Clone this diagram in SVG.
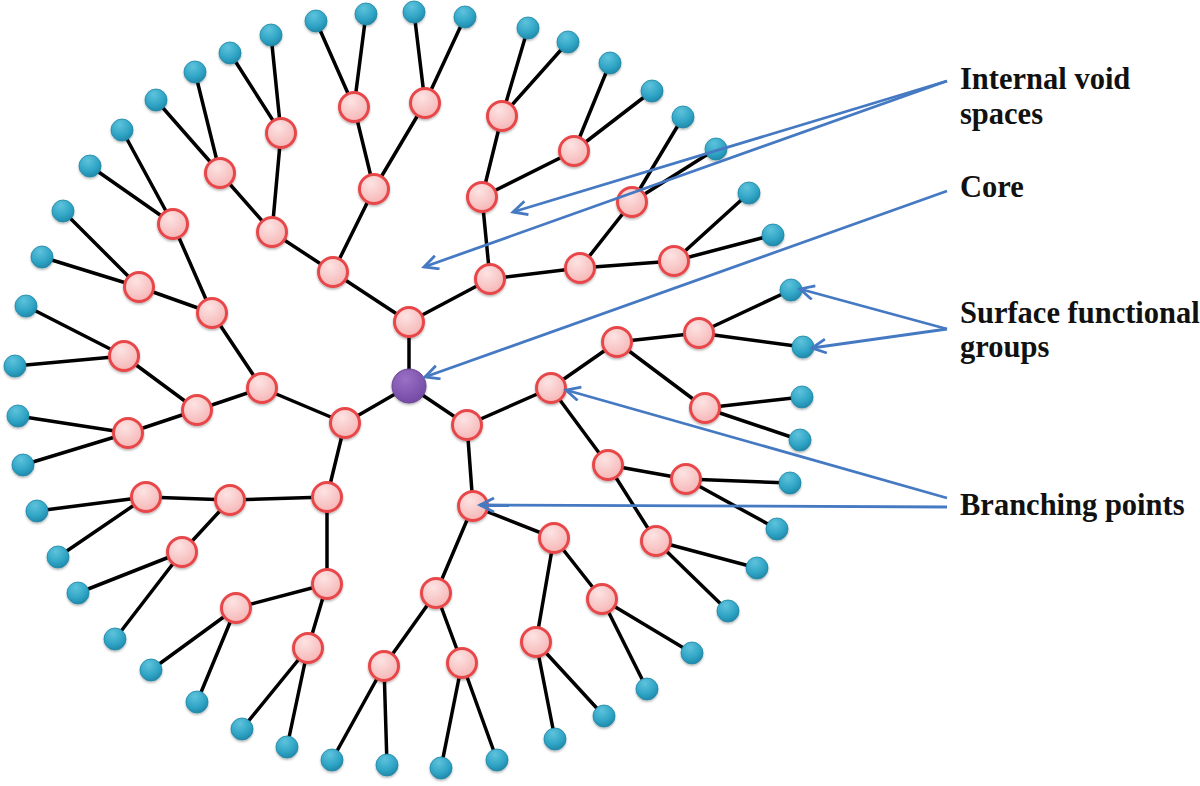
<svg xmlns="http://www.w3.org/2000/svg" xmlns:xlink="http://www.w3.org/1999/xlink" width="1200" height="786" viewBox="0 0 1200 786">
<style>
.e{stroke:#000;stroke-width:3.5;stroke-linecap:round}
.bp{fill:url(#gp);stroke:#e8474a;stroke-width:3}
.lf{fill:url(#gl);stroke:#1f86a6;stroke-width:0.8}
.core{fill:url(#gc);stroke:#6a4593;stroke-width:1}
.ar{stroke:#4579c2;stroke-width:2.8;fill:none;marker-end:url(#ah)}
.t{font-family:"Liberation Serif","Times New Roman",serif;font-weight:bold;font-size:30.5px;fill:#111}
.n{filter:url(#sh)}
</style>
<defs>
<radialGradient id="gp" cx="0.4" cy="0.3" r="0.8"><stop offset="0" stop-color="#fde3e3"/><stop offset="1" stop-color="#f5b0b0"/></radialGradient>
<radialGradient id="gl" cx="0.4" cy="0.25" r="0.85"><stop offset="0" stop-color="#5ec3dc"/><stop offset="0.6" stop-color="#2ea3c4"/><stop offset="1" stop-color="#1c7fa0"/></radialGradient>
<radialGradient id="gc" cx="0.4" cy="0.3" r="0.8"><stop offset="0" stop-color="#9a70c6"/><stop offset="1" stop-color="#6f45a0"/></radialGradient>
<filter id="sh" x="-30%" y="-30%" width="160%" height="170%"><feDropShadow dx="0" dy="1.5" stdDeviation="1.2" flood-color="#000" flood-opacity="0.3"/></filter>
<marker id="ah" markerUnits="userSpaceOnUse" markerWidth="20" markerHeight="20" refX="15" refY="8" orient="auto"><path d="M1,1 L15,8 L1,15" fill="none" stroke="#4579c2" stroke-width="2.8" stroke-linejoin="miter"/></marker>
</defs>
<g id="connectors">
<line class="e" x1="409" y1="386" x2="409" y2="322"/>
<line class="e" x1="409" y1="386" x2="345" y2="423"/>
<line class="e" x1="409" y1="386" x2="467" y2="425"/>
<line class="e" x1="409" y1="322" x2="333" y2="272"/>
<line class="e" x1="409" y1="322" x2="490" y2="279"/>
<line class="e" x1="333" y1="272" x2="272" y2="232"/>
<line class="e" x1="333" y1="272" x2="374" y2="189"/>
<line class="e" x1="272" y1="232" x2="220" y2="173"/>
<line class="e" x1="272" y1="232" x2="281" y2="133"/>
<line class="e" x1="374" y1="189" x2="354" y2="107"/>
<line class="e" x1="374" y1="189" x2="425" y2="103"/>
<line class="e" x1="490" y1="279" x2="482" y2="197"/>
<line class="e" x1="490" y1="279" x2="580" y2="268"/>
<line class="e" x1="482" y1="197" x2="502" y2="116"/>
<line class="e" x1="482" y1="197" x2="574" y2="151"/>
<line class="e" x1="580" y1="268" x2="632" y2="202"/>
<line class="e" x1="580" y1="268" x2="674" y2="261"/>
<line class="e" x1="345" y1="423" x2="262" y2="388"/>
<line class="e" x1="345" y1="423" x2="327" y2="497"/>
<line class="e" x1="262" y1="388" x2="212" y2="313"/>
<line class="e" x1="262" y1="388" x2="197" y2="410"/>
<line class="e" x1="212" y1="313" x2="139" y2="287"/>
<line class="e" x1="212" y1="313" x2="173" y2="224"/>
<line class="e" x1="197" y1="410" x2="124" y2="356"/>
<line class="e" x1="197" y1="410" x2="128" y2="433"/>
<line class="e" x1="327" y1="497" x2="230" y2="500"/>
<line class="e" x1="327" y1="497" x2="327" y2="584"/>
<line class="e" x1="230" y1="500" x2="146" y2="497"/>
<line class="e" x1="230" y1="500" x2="182" y2="552"/>
<line class="e" x1="327" y1="584" x2="236" y2="608"/>
<line class="e" x1="327" y1="584" x2="308" y2="648"/>
<line class="e" x1="467" y1="425" x2="551" y2="388"/>
<line class="e" x1="467" y1="425" x2="473" y2="506"/>
<line class="e" x1="551" y1="388" x2="617" y2="342"/>
<line class="e" x1="551" y1="388" x2="608" y2="465"/>
<line class="e" x1="617" y1="342" x2="699" y2="333"/>
<line class="e" x1="617" y1="342" x2="705" y2="408"/>
<line class="e" x1="608" y1="465" x2="686" y2="479"/>
<line class="e" x1="608" y1="465" x2="656" y2="541"/>
<line class="e" x1="473" y1="506" x2="554" y2="538"/>
<line class="e" x1="473" y1="506" x2="436" y2="593"/>
<line class="e" x1="554" y1="538" x2="602" y2="599"/>
<line class="e" x1="554" y1="538" x2="536" y2="642"/>
<line class="e" x1="436" y1="593" x2="462" y2="663"/>
<line class="e" x1="436" y1="593" x2="384" y2="666"/>
<line class="e" x1="220" y1="173" x2="156" y2="100"/>
<line class="e" x1="220" y1="173" x2="195" y2="72"/>
<line class="e" x1="281" y1="133" x2="230" y2="53"/>
<line class="e" x1="281" y1="133" x2="271" y2="35"/>
<line class="e" x1="354" y1="107" x2="316" y2="21"/>
<line class="e" x1="354" y1="107" x2="366" y2="14"/>
<line class="e" x1="425" y1="103" x2="414" y2="12"/>
<line class="e" x1="425" y1="103" x2="465" y2="17"/>
<line class="e" x1="502" y1="116" x2="528" y2="28"/>
<line class="e" x1="502" y1="116" x2="568" y2="42"/>
<line class="e" x1="574" y1="151" x2="610" y2="63"/>
<line class="e" x1="574" y1="151" x2="652" y2="91"/>
<line class="e" x1="632" y1="202" x2="683" y2="117"/>
<line class="e" x1="632" y1="202" x2="716" y2="149"/>
<line class="e" x1="674" y1="261" x2="749" y2="193"/>
<line class="e" x1="674" y1="261" x2="773" y2="235"/>
<line class="e" x1="173" y1="224" x2="122" y2="130"/>
<line class="e" x1="173" y1="224" x2="90" y2="166"/>
<line class="e" x1="139" y1="287" x2="63" y2="211"/>
<line class="e" x1="139" y1="287" x2="42" y2="257"/>
<line class="e" x1="124" y1="356" x2="26" y2="306"/>
<line class="e" x1="124" y1="356" x2="15" y2="366"/>
<line class="e" x1="128" y1="433" x2="18" y2="416"/>
<line class="e" x1="128" y1="433" x2="23" y2="465"/>
<line class="e" x1="146" y1="497" x2="37" y2="511"/>
<line class="e" x1="146" y1="497" x2="58" y2="557"/>
<line class="e" x1="182" y1="552" x2="78" y2="593"/>
<line class="e" x1="182" y1="552" x2="115" y2="639"/>
<line class="e" x1="236" y1="608" x2="151" y2="670"/>
<line class="e" x1="236" y1="608" x2="197" y2="702"/>
<line class="e" x1="308" y1="648" x2="242" y2="729"/>
<line class="e" x1="308" y1="648" x2="287" y2="747"/>
<line class="e" x1="384" y1="666" x2="332" y2="760"/>
<line class="e" x1="384" y1="666" x2="387" y2="765"/>
<line class="e" x1="462" y1="663" x2="441" y2="768"/>
<line class="e" x1="462" y1="663" x2="497" y2="760"/>
<line class="e" x1="536" y1="642" x2="555" y2="739"/>
<line class="e" x1="536" y1="642" x2="604" y2="716"/>
<line class="e" x1="602" y1="599" x2="647" y2="689"/>
<line class="e" x1="602" y1="599" x2="692" y2="653"/>
<line class="e" x1="656" y1="541" x2="728" y2="611"/>
<line class="e" x1="656" y1="541" x2="757" y2="568"/>
<line class="e" x1="686" y1="479" x2="777" y2="529"/>
<line class="e" x1="686" y1="479" x2="790" y2="483"/>
<line class="e" x1="705" y1="408" x2="802" y2="397"/>
<line class="e" x1="705" y1="408" x2="800" y2="440"/>
<line class="e" x1="699" y1="333" x2="791" y2="290"/>
<line class="e" x1="699" y1="333" x2="803" y2="347"/>
</g>
<g id="core" class="n"><circle class="core" cx="409" cy="386" r="17"/></g>
<g id="branching-points">
<g id="b1" class="n"><circle class="bp" cx="409" cy="322" r="14.5"/></g>
<g id="b2" class="n"><circle class="bp" cx="345" cy="423" r="14.5"/></g>
<g id="b3" class="n"><circle class="bp" cx="467" cy="425" r="14.5"/></g>
<g id="b4" class="n"><circle class="bp" cx="333" cy="272" r="14.5"/></g>
<g id="b5" class="n"><circle class="bp" cx="490" cy="279" r="14.5"/></g>
<g id="b6" class="n"><circle class="bp" cx="272" cy="232" r="14.5"/></g>
<g id="b7" class="n"><circle class="bp" cx="374" cy="189" r="14.5"/></g>
<g id="b8" class="n"><circle class="bp" cx="220" cy="173" r="14.5"/></g>
<g id="b9" class="n"><circle class="bp" cx="281" cy="133" r="14.5"/></g>
<g id="b10" class="n"><circle class="bp" cx="354" cy="107" r="14.5"/></g>
<g id="b11" class="n"><circle class="bp" cx="425" cy="103" r="14.5"/></g>
<g id="b12" class="n"><circle class="bp" cx="482" cy="197" r="14.5"/></g>
<g id="b13" class="n"><circle class="bp" cx="580" cy="268" r="14.5"/></g>
<g id="b14" class="n"><circle class="bp" cx="502" cy="116" r="14.5"/></g>
<g id="b15" class="n"><circle class="bp" cx="574" cy="151" r="14.5"/></g>
<g id="b16" class="n"><circle class="bp" cx="632" cy="202" r="14.5"/></g>
<g id="b17" class="n"><circle class="bp" cx="674" cy="261" r="14.5"/></g>
<g id="b18" class="n"><circle class="bp" cx="262" cy="388" r="14.5"/></g>
<g id="b19" class="n"><circle class="bp" cx="327" cy="497" r="14.5"/></g>
<g id="b20" class="n"><circle class="bp" cx="212" cy="313" r="14.5"/></g>
<g id="b21" class="n"><circle class="bp" cx="197" cy="410" r="14.5"/></g>
<g id="b22" class="n"><circle class="bp" cx="139" cy="287" r="14.5"/></g>
<g id="b23" class="n"><circle class="bp" cx="173" cy="224" r="14.5"/></g>
<g id="b24" class="n"><circle class="bp" cx="124" cy="356" r="14.5"/></g>
<g id="b25" class="n"><circle class="bp" cx="128" cy="433" r="14.5"/></g>
<g id="b26" class="n"><circle class="bp" cx="230" cy="500" r="14.5"/></g>
<g id="b27" class="n"><circle class="bp" cx="327" cy="584" r="14.5"/></g>
<g id="b28" class="n"><circle class="bp" cx="146" cy="497" r="14.5"/></g>
<g id="b29" class="n"><circle class="bp" cx="182" cy="552" r="14.5"/></g>
<g id="b30" class="n"><circle class="bp" cx="236" cy="608" r="14.5"/></g>
<g id="b31" class="n"><circle class="bp" cx="308" cy="648" r="14.5"/></g>
<g id="b32" class="n"><circle class="bp" cx="551" cy="388" r="14.5"/></g>
<g id="b33" class="n"><circle class="bp" cx="473" cy="506" r="14.5"/></g>
<g id="b34" class="n"><circle class="bp" cx="617" cy="342" r="14.5"/></g>
<g id="b35" class="n"><circle class="bp" cx="608" cy="465" r="14.5"/></g>
<g id="b36" class="n"><circle class="bp" cx="699" cy="333" r="14.5"/></g>
<g id="b37" class="n"><circle class="bp" cx="705" cy="408" r="14.5"/></g>
<g id="b38" class="n"><circle class="bp" cx="686" cy="479" r="14.5"/></g>
<g id="b39" class="n"><circle class="bp" cx="656" cy="541" r="14.5"/></g>
<g id="b40" class="n"><circle class="bp" cx="554" cy="538" r="14.5"/></g>
<g id="b41" class="n"><circle class="bp" cx="436" cy="593" r="14.5"/></g>
<g id="b42" class="n"><circle class="bp" cx="602" cy="599" r="14.5"/></g>
<g id="b43" class="n"><circle class="bp" cx="536" cy="642" r="14.5"/></g>
<g id="b44" class="n"><circle class="bp" cx="462" cy="663" r="14.5"/></g>
<g id="b45" class="n"><circle class="bp" cx="384" cy="666" r="14.5"/></g>
</g>
<g id="surface-groups">
<g id="s1" class="n"><circle class="lf" cx="156" cy="100" r="11"/></g>
<g id="s2" class="n"><circle class="lf" cx="195" cy="72" r="11"/></g>
<g id="s3" class="n"><circle class="lf" cx="230" cy="53" r="11"/></g>
<g id="s4" class="n"><circle class="lf" cx="271" cy="35" r="11"/></g>
<g id="s5" class="n"><circle class="lf" cx="316" cy="21" r="11"/></g>
<g id="s6" class="n"><circle class="lf" cx="366" cy="14" r="11"/></g>
<g id="s7" class="n"><circle class="lf" cx="414" cy="12" r="11"/></g>
<g id="s8" class="n"><circle class="lf" cx="465" cy="17" r="11"/></g>
<g id="s9" class="n"><circle class="lf" cx="528" cy="28" r="11"/></g>
<g id="s10" class="n"><circle class="lf" cx="568" cy="42" r="11"/></g>
<g id="s11" class="n"><circle class="lf" cx="610" cy="63" r="11"/></g>
<g id="s12" class="n"><circle class="lf" cx="652" cy="91" r="11"/></g>
<g id="s13" class="n"><circle class="lf" cx="683" cy="117" r="11"/></g>
<g id="s14" class="n"><circle class="lf" cx="716" cy="149" r="11"/></g>
<g id="s15" class="n"><circle class="lf" cx="749" cy="193" r="11"/></g>
<g id="s16" class="n"><circle class="lf" cx="773" cy="235" r="11"/></g>
<g id="s17" class="n"><circle class="lf" cx="122" cy="130" r="11"/></g>
<g id="s18" class="n"><circle class="lf" cx="90" cy="166" r="11"/></g>
<g id="s19" class="n"><circle class="lf" cx="63" cy="211" r="11"/></g>
<g id="s20" class="n"><circle class="lf" cx="42" cy="257" r="11"/></g>
<g id="s21" class="n"><circle class="lf" cx="26" cy="306" r="11"/></g>
<g id="s22" class="n"><circle class="lf" cx="15" cy="366" r="11"/></g>
<g id="s23" class="n"><circle class="lf" cx="18" cy="416" r="11"/></g>
<g id="s24" class="n"><circle class="lf" cx="23" cy="465" r="11"/></g>
<g id="s25" class="n"><circle class="lf" cx="37" cy="511" r="11"/></g>
<g id="s26" class="n"><circle class="lf" cx="58" cy="557" r="11"/></g>
<g id="s27" class="n"><circle class="lf" cx="78" cy="593" r="11"/></g>
<g id="s28" class="n"><circle class="lf" cx="115" cy="639" r="11"/></g>
<g id="s29" class="n"><circle class="lf" cx="151" cy="670" r="11"/></g>
<g id="s30" class="n"><circle class="lf" cx="197" cy="702" r="11"/></g>
<g id="s31" class="n"><circle class="lf" cx="242" cy="729" r="11"/></g>
<g id="s32" class="n"><circle class="lf" cx="287" cy="747" r="11"/></g>
<g id="s33" class="n"><circle class="lf" cx="332" cy="760" r="11"/></g>
<g id="s34" class="n"><circle class="lf" cx="387" cy="765" r="11"/></g>
<g id="s35" class="n"><circle class="lf" cx="441" cy="768" r="11"/></g>
<g id="s36" class="n"><circle class="lf" cx="497" cy="760" r="11"/></g>
<g id="s37" class="n"><circle class="lf" cx="555" cy="739" r="11"/></g>
<g id="s38" class="n"><circle class="lf" cx="604" cy="716" r="11"/></g>
<g id="s39" class="n"><circle class="lf" cx="647" cy="689" r="11"/></g>
<g id="s40" class="n"><circle class="lf" cx="692" cy="653" r="11"/></g>
<g id="s41" class="n"><circle class="lf" cx="728" cy="611" r="11"/></g>
<g id="s42" class="n"><circle class="lf" cx="757" cy="568" r="11"/></g>
<g id="s43" class="n"><circle class="lf" cx="777" cy="529" r="11"/></g>
<g id="s44" class="n"><circle class="lf" cx="790" cy="483" r="11"/></g>
<g id="s45" class="n"><circle class="lf" cx="800" cy="440" r="11"/></g>
<g id="s46" class="n"><circle class="lf" cx="802" cy="397" r="11"/></g>
<g id="s47" class="n"><circle class="lf" cx="803" cy="347" r="11"/></g>
<g id="s48" class="n"><circle class="lf" cx="791" cy="290" r="11"/></g>
</g>
<g id="label-arrows">
<path class="ar" d="M947,81 L513,212"/>
<path class="ar" d="M947,81 L424,267"/>
<path class="ar" d="M947,191 L425,377"/>
<path class="ar" d="M947,329 L800,289"/>
<path class="ar" d="M947,329 L812,348"/>
<path class="ar" d="M947,498 L566,390"/>
<path class="ar" d="M947,507 L480,505"/>
</g>
<g id="labels">
<text class="t" x="960" y="89">Internal void</text>
<text class="t" x="960" y="124">spaces</text>
<text class="t" x="960" y="197">Core</text>
<text class="t" x="960" y="323">Surface functional</text>
<text class="t" x="960" y="357">groups</text>
<text class="t" x="960" y="515">Branching points</text>
</g>
</svg>
